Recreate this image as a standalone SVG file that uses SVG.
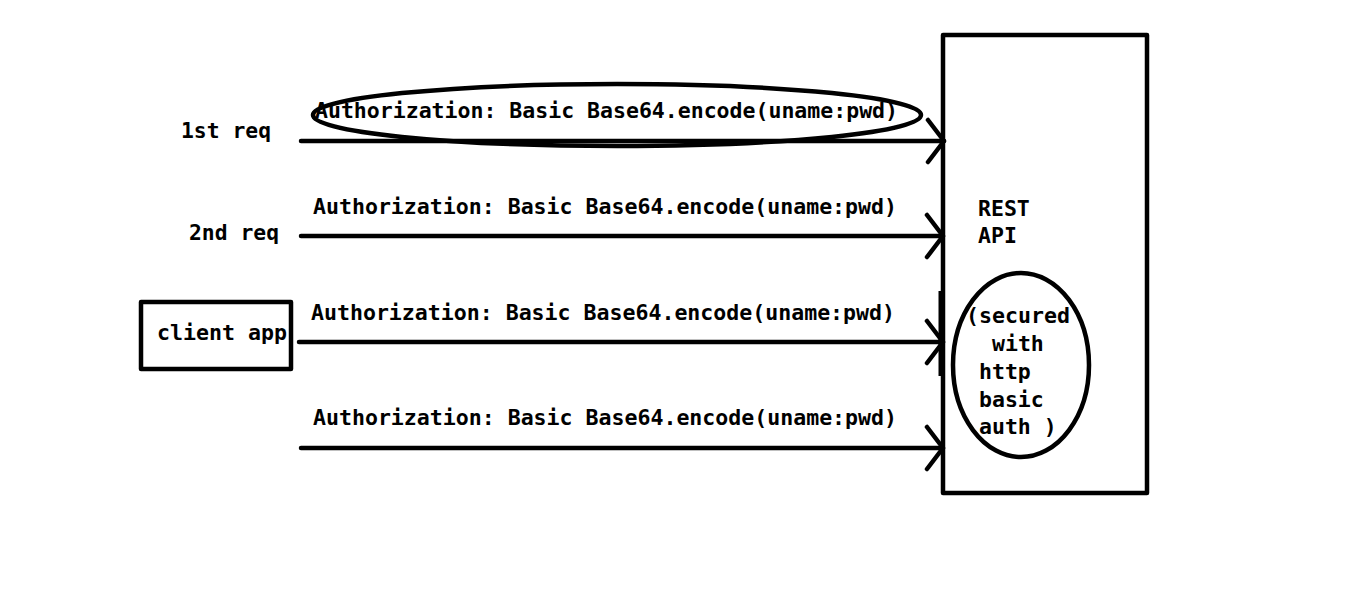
<svg xmlns="http://www.w3.org/2000/svg" width="1360" height="593" viewBox="0 0 1360 593">
<style>
  .t { font-family: "DejaVu Sans Mono", "Liberation Mono", monospace; font-weight: bold; font-size: 21.5px; fill: #000; }
  .s { fill: none; stroke: #000; stroke-width: 4.5; stroke-linecap: round; stroke-linejoin: round; }
</style>
<defs>
  <marker id="chev" viewBox="-20 -24 24 48" refX="0" refY="0" markerWidth="24" markerHeight="48" markerUnits="userSpaceOnUse" orient="auto">
    <path d="M-16,-21 L0,0 L-16,21" fill="none" stroke="#000" stroke-width="4.5" stroke-linecap="round" stroke-linejoin="round"/>
  </marker>
</defs>
<rect width="1360" height="593" fill="#fff"/>
<g id="rest-api">
  <rect class="s" x="943" y="35" width="204" height="458" stroke-linecap="butt"/>
  <line x1="940" y1="291" x2="940" y2="376" stroke="#000" stroke-width="3"/>
  <text class="t" x="978" y="216">REST</text>
  <text class="t" x="978" y="243">API</text>
</g>
<g id="secured">
  <ellipse class="s" cx="1021" cy="365" rx="68" ry="92"/>
  <text class="t" x="966" y="323" textLength="104" lengthAdjust="spacingAndGlyphs">(secured</text>
  <text class="t" x="992" y="351">with</text>
  <text class="t" x="979" y="379">http</text>
  <text class="t" x="979" y="407">basic</text>
  <text class="t" x="979" y="434">auth )</text>
</g>
<g id="client-app">
  <rect class="s" x="141" y="302" width="150" height="67" stroke-linecap="butt"/>
  <text class="t" x="157" y="340" textLength="130" lengthAdjust="spacingAndGlyphs">client app</text>
</g>
<g id="label-1st">
  <text class="t" x="181" y="138" textLength="90" lengthAdjust="spacingAndGlyphs">1st req</text>
</g>
<g id="label-2nd">
  <text class="t" x="189" y="240" textLength="90" lengthAdjust="spacingAndGlyphs">2nd req</text>
</g>
<g id="connectors">
  <line class="s" x1="301" y1="141" x2="944" y2="141" marker-end="url(#chev)"/>
  <line class="s" x1="301" y1="236" x2="943" y2="236" marker-end="url(#chev)"/>
  <line class="s" x1="299" y1="342" x2="943" y2="342" marker-end="url(#chev)"/>
  <line class="s" x1="301" y1="448" x2="943" y2="448" marker-end="url(#chev)"/>
  <ellipse class="s" cx="617" cy="115" rx="304" ry="31" stroke-width="5"/>
  <text class="t" x="315" y="118" textLength="583" lengthAdjust="spacingAndGlyphs">Authorization: Basic Base64.encode(uname:pwd)</text>
  <text class="t" x="313" y="214" textLength="584" lengthAdjust="spacingAndGlyphs">Authorization: Basic Base64.encode(uname:pwd)</text>
  <text class="t" x="311" y="320" textLength="584" lengthAdjust="spacingAndGlyphs">Authorization: Basic Base64.encode(uname:pwd)</text>
  <text class="t" x="313" y="425" textLength="584" lengthAdjust="spacingAndGlyphs">Authorization: Basic Base64.encode(uname:pwd)</text>
</g>
</svg>
